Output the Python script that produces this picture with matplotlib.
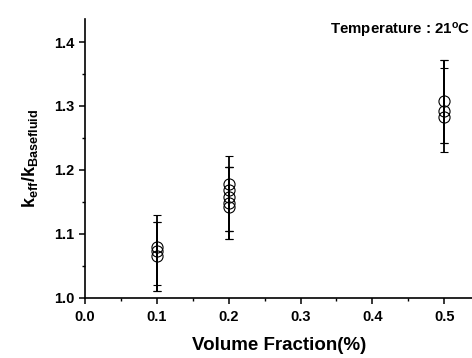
import matplotlib
matplotlib.use('Agg')
import matplotlib.pyplot as plt
import numpy as np
from matplotlib.ticker import MultipleLocator

plt.rcParams['font.family'] = ['Liberation Sans', 'DejaVu Sans']
plt.rcParams['font.weight'] = 'bold'
plt.rcParams['mathtext.fontset'] = 'custom'
plt.rcParams['mathtext.rm'] = 'Liberation Sans:bold'
plt.rcParams['mathtext.it'] = 'Liberation Sans:bold'
plt.rcParams['mathtext.bf'] = 'Liberation Sans:bold'

# volume fraction (%) and ratio values
vol_01 = [0.1, 0.1, 0.1]
k_01 = [1.080, 1.073, 1.066]
err_lo_01 = [0.060, 0.062, 0.055]
err_hi_01 = [0.049, 0.045, 0.052]

vol_02 = [0.2, 0.2, 0.2, 0.2, 0.2]
k_02 = [1.178, 1.168, 1.157, 1.148, 1.142]
err_lo_02 = [0.073, 0.076, 0.052, 0.043, 0.050]
err_hi_02 = [0.044, 0.037, 0.048, 0.057, 0.063]

vol_05 = [0.5, 0.5, 0.5]
k_05 = [1.307, 1.292, 1.282]
err_lo_05 = [0.065, 0.064, 0.040]
err_hi_05 = [0.065, 0.067, 0.090]

fig = plt.figure(figsize=(4.72, 3.58), dpi=100)
ax = fig.add_axes([0.180, 0.168, 0.822, 0.779])

for xs, ys, lo, hi in [(vol_01, k_01, err_lo_01, err_hi_01),
                       (vol_02, k_02, err_lo_02, err_hi_02),
                       (vol_05, k_05, err_lo_05, err_hi_05)]:
    ax.errorbar(xs, ys, yerr=[lo, hi], fmt='o', color='black',
                mfc='none', mec='black', ms=8, mew=0.8,
                ecolor='black', elinewidth=1.3, capsize=3, capthick=1.0)

ax.set_xlim(0, 0.54)
ax.set_ylim(1.0, 1.436)
ax.xaxis.set_major_locator(MultipleLocator(0.1))
ax.xaxis.set_minor_locator(MultipleLocator(0.05))
ax.yaxis.set_major_locator(MultipleLocator(0.1))
ax.yaxis.set_minor_locator(MultipleLocator(0.05))
ax.xaxis.set_major_formatter(matplotlib.ticker.FormatStrFormatter('%.1f'))
ax.yaxis.set_major_formatter(matplotlib.ticker.FormatStrFormatter('%.1f'))

ax.spines['top'].set_visible(False)
ax.spines['right'].set_visible(False)
for s in ['left', 'bottom']:
    ax.spines[s].set_linewidth(1.2)

ax.tick_params(which='major', direction='out', length=4, width=1.1, labelsize=10.5)
ax.tick_params(axis='x', which='major', pad=5)
ax.tick_params(which='minor', direction='out', length=2.5, width=1.0)
for lbl in ax.get_xticklabels() + ax.get_yticklabels():
    lbl.set_fontweight('bold')

ax.set_xlabel('Volume Fraction(%)', fontsize=13.5, fontweight='bold', labelpad=9)
ax.set_ylabel(r'$\mathbf{k_{eff}/k_{Basefluid}}$', fontsize=13, labelpad=10)

ax.text(0.536, 1.411, r'Temperature : 21$^{\mathbf{o}}$C', ha='right', va='baseline',
        fontsize=10.8, fontweight='bold')

fig.savefig('out.png', dpi=100)
